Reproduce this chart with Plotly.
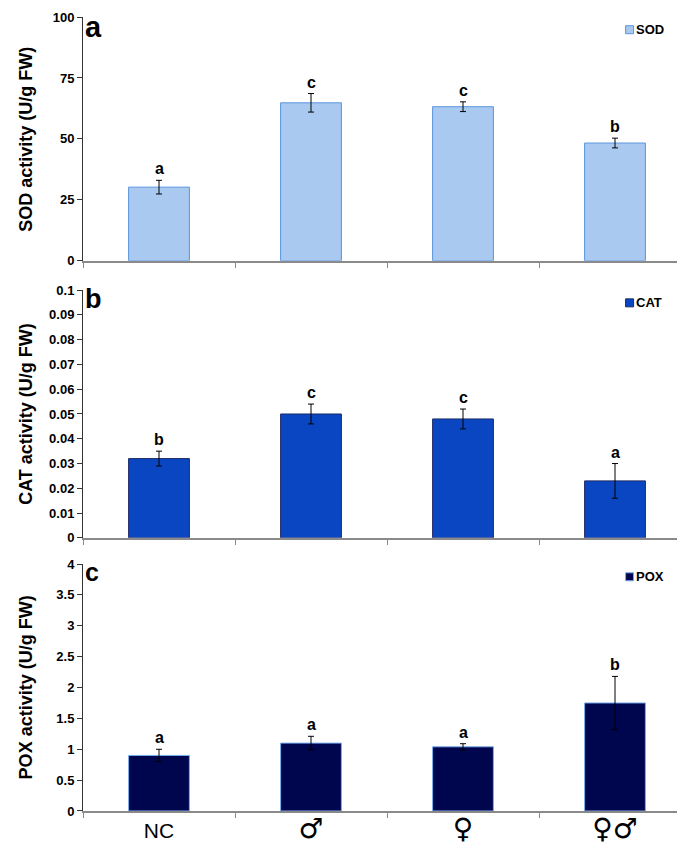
"""Antioxidant enzyme activity (SOD, CAT, POX) across groups, three stacked bar panels."""

import plotly.graph_objects as go
from plotly.subplots import make_subplots

groups = ["NC", "♂", "♀", "♀♂"]
SYM = "<span style='font-size:28px;font-family:DejaVu Sans'>{}</span>"
group_labels = ["NC"] + [SYM.format(g) for g in groups[1:]]

sod = [30.2, 64.8, 63.2, 48.3]
sod_err = [2.8, 3.8, 2.0, 2.0]
sod_letters = ["a", "c", "c", "b"]

cat = [0.032, 0.050, 0.048, 0.023]
cat_err = [0.003, 0.004, 0.004, 0.007]
cat_letters = ["b", "c", "c", "a"]

pox = [0.90, 1.10, 1.04, 1.75]
pox_err = [0.10, 0.11, 0.05, 0.43]
pox_letters = ["a", "a", "a", "b"]

FONT = "Liberation Sans, Arial, sans-serif"

panels = [
    # name, values, errors, letters, fill, border, y range, dtick, y title, panel tag, tag size
    ("SOD", sod, sod_err, sod_letters, "#a9c9f0", "#5b95dc", [0, 100], 25, "SOD activity (U/g FW)", "a", 29),
    ("CAT", cat, cat_err, cat_letters, "#0a46c2", "#1b2a66", [0, 0.1], 0.01, "CAT activity (U/g FW)", "b", 27),
    ("POX", pox, pox_err, pox_letters, "#00064d", "#7aaef0", [0, 4], 0.5, "POX activity (U/g FW)", "c", 25),
]

fig = make_subplots(rows=3, cols=1, vertical_spacing=0.04)

# plot area runs from y=9 to y=803 px
domains = [[0.693, 1.0], [0.344, 0.656], [0.0, 0.311]]

for i, (name, vals, errs, letters, fill, border, yr, dt, ytitle, tag, tagsize) in enumerate(panels):
    row = i + 1
    fig.add_trace(
        go.Bar(
            x=groups, y=vals, name=name, width=0.4, showlegend=False,
            marker=dict(color=fill, line=dict(color=border, width=1)),
            error_y=dict(type="data", array=errs, color="black", thickness=1, width=3),
        ),
        row=row, col=1,
    )
    # significance letters above the error bars
    for g, v, e, lt in zip(groups, vals, errs, letters):
        fig.add_annotation(
            x=g, y=v + e, text=lt, showarrow=False, yanchor="bottom", yshift=1,
            font=dict(family=FONT, size=16, color="black", weight="bold"), row=row, col=1,
        )

    yax = "yaxis" if i == 0 else f"yaxis{row}"
    xax = "xaxis" if i == 0 else f"xaxis{row}"
    fig.layout[yax].update(
        domain=domains[i], range=yr, dtick=dt, tick0=0, showgrid=False, zeroline=False,
        showline=True, linecolor="#333333", linewidth=1, ticks="outside", ticklen=5,
        tickcolor="#333333", automargin=False,
        tickfont=dict(family=FONT, size=13, color="black", weight="bold"),
    )
    fig.layout[xax].update(
        showgrid=False, showline=True, linecolor="#8a8a8a", linewidth=1.5,
        ticks="outside", ticklen=5, tickcolor="#8a8a8a", tickson="boundaries",
        showticklabels=(row == 3), tickfont=dict(family=FONT, size=21, color="black"),
        tickvals=groups, ticktext=group_labels, range=[-0.5, 3.5], automargin=False,
    )
    top = domains[i][1]
    mid = sum(domains[i]) / 2
    # y axis title placed by hand so all three line up
    fig.add_annotation(
        xref="paper", yref="paper", x=-0.094, y=mid, text=ytitle,
        xanchor="center", yanchor="middle", textangle=-90, showarrow=False,
        font=dict(family=FONT, size=18, color="black", weight="bold"),
    )
    # panel tag
    fig.add_annotation(
        xref="paper", yref="paper", x=0.0, y=top + 0.01, text=tag,
        xanchor="left", yanchor="top", showarrow=False,
        font=dict(family=FONT, size=tagsize, color="black", weight="bold"),
    )
    # legend: small square + bold name
    fig.add_shape(
        type="rect", xref="paper", yref="paper", xsizemode="pixel", ysizemode="pixel",
        xanchor=0.899, yanchor=top - 0.016, x0=-4, x1=4, y0=-4, y1=4,
        fillcolor=fill, line=dict(color=border, width=1),
    )
    fig.add_annotation(
        xref="paper", yref="paper", x=0.907, y=top - 0.016, text=name,
        xanchor="left", yanchor="middle", showarrow=False,
        font=dict(family=FONT, size=13, color="black", weight="bold"),
    )

fig.update_layout(
    width=685, height=849, plot_bgcolor="white", paper_bgcolor="white",
    margin=dict(l=75, r=2, t=9, b=46), bargap=0.6,
)

fig.write_html("out.html")
